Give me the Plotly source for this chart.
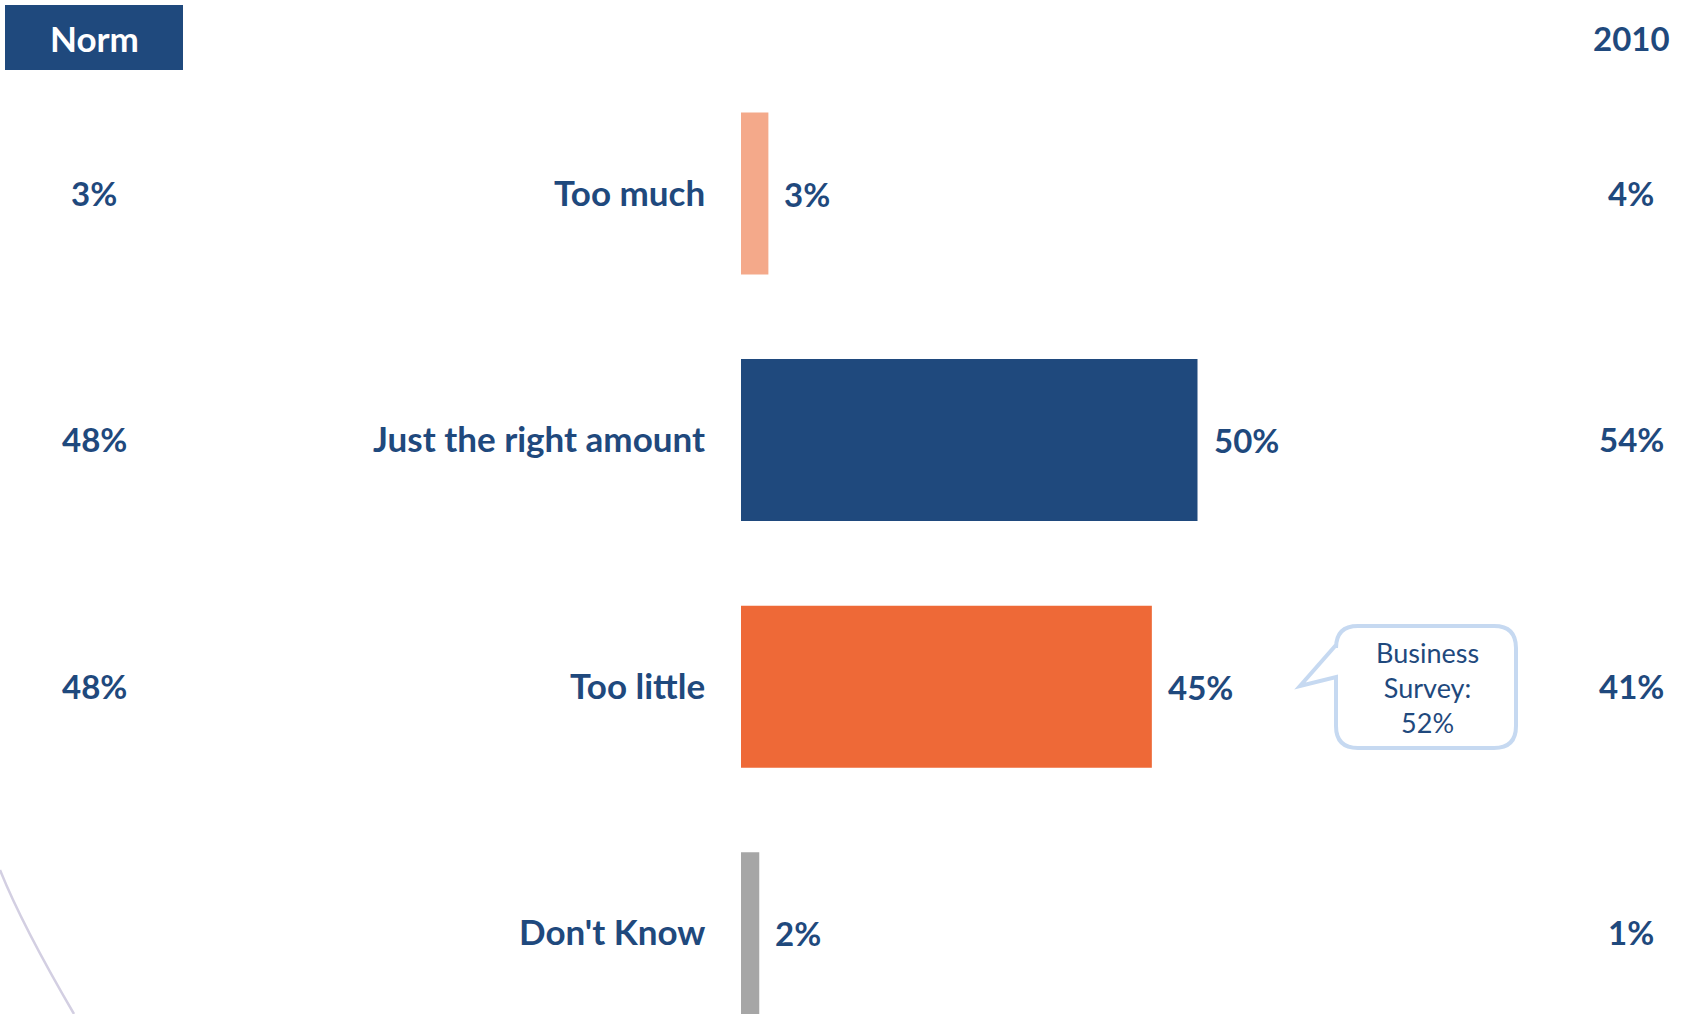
import plotly.graph_objects as go

# Survey answers and shares (%)
categories = ["Too much", "Just the right amount", "Too little", "Don't Know"]
current = [3, 50, 45, 2]
norm = [3, 48, 48, None]
year_2010 = [4, 54, 41, 1]
bar_colors = ["#F4A98A", "#1F497D", "#EE6937", "#A6A6A6"]
callout_text = "Business<br>Survey:<br>52%"

W, H = 1681, 1014
BLUE = "#1F497D"
FONT = "Lato"

ypos = list(range(len(categories)))

fig = go.Figure()
fig.add_trace(go.Bar(
    x=current, y=ypos, orientation="h",
    marker=dict(color=bar_colors, line=dict(width=0)),
    width=0.657, hoverinfo="skip",
))

ann = []
for i, cat in enumerate(categories):
    # category name to the left of the zero line
    ann.append(dict(x=0, y=i, xref="x", yref="y", text=f"<b>{cat}</b>",
                    xanchor="right", yanchor="middle", xshift=-34, yshift=2, showarrow=False,
                    font=dict(family=FONT, size=35, color=BLUE)))
    # value at the end of the bar
    ann.append(dict(x=current[i], y=i, xref="x", yref="y", text=f"<b>{current[i]}%</b>",
                    xanchor="left", yanchor="middle", xshift=14, yshift=0, showarrow=False,
                    font=dict(family=FONT, size=33, color=BLUE)))
    if norm[i] is not None:
        ann.append(dict(x=94 / W, y=i, xref="paper", yref="y", text=f"<b>{norm[i]}%</b>",
                        xanchor="center", yanchor="middle", yshift=1, showarrow=False,
                        font=dict(family=FONT, size=33, color=BLUE)))
    ann.append(dict(x=1631 / W, y=i, xref="paper", yref="y", text=f"<b>{year_2010[i]}%</b>",
                    xanchor="center", yanchor="middle", yshift=1, showarrow=False,
                    font=dict(family=FONT, size=33, color=BLUE)))

# column headers
ann.append(dict(x=94 / W, y=1 - 38 / H, xref="paper", yref="paper", text="<b>Norm</b>",
                xanchor="center", yanchor="middle", showarrow=False,
                font=dict(family=FONT, size=35, color="white")))
ann.append(dict(x=1631 / W, y=1 - 38 / H, xref="paper", yref="paper", text="<b>2010</b>",
                xanchor="center", yanchor="middle", showarrow=False,
                font=dict(family=FONT, size=33, color=BLUE)))
# speech bubble text
ann.append(dict(x=1427 / W, y=1 - 687 / H, xref="paper", yref="paper", text=callout_text,
                xanchor="center", yanchor="middle", showarrow=False,
                font=dict(family=FONT, size=27, color=BLUE)))


def px(x, y):
    return f"{x / W:.5f},{1 - y / H:.5f}"


shapes = [
    # "Norm" header box
    dict(type="rect", xref="paper", yref="paper", x0=5 / W, x1=183 / W,
         y0=1 - 70 / H, y1=1 - 5 / H, fillcolor=BLUE, line=dict(width=0), layer="below"),
    # decorative arc at bottom-left
    dict(type="path", xref="paper", yref="paper",
         path=f"M {px(0, 870)} Q {px(22, 925)} {px(74, 1014)}",
         line=dict(color="#D3CFE2", width=2.5)),
]

# speech bubble outline with rounded corners and a pointer to the left
x0, x1, y0, y1, r = 1336, 1516, 626, 748, 22
bubble = (
    f"M {px(x0 + r, y0)} L {px(x1 - r, y0)} Q {px(x1, y0)} {px(x1, y0 + r)} "
    f"L {px(x1, y1 - r)} Q {px(x1, y1)} {px(x1 - r, y1)} "
    f"L {px(x0 + r, y1)} Q {px(x0, y1)} {px(x0, y1 - r)} "
    f"L {px(x0, 677)} L {px(1300, 686)} L {px(x0, 645)} "
    f"L {px(x0, y0 + r)} Q {px(x0, y0)} {px(x0 + r, y0)} Z"
)
shapes.append(dict(type="path", xref="paper", yref="paper", path=bubble,
                   line=dict(color="#C6D9F1", width=4), fillcolor="white", layer="below"))

scale = 9.13  # pixels per percentage point
zero_px = 741
band = 246.6
first_center = 193.5

fig.update_layout(
    width=W, height=H,
    margin=dict(l=0, r=0, t=0, b=0),
    paper_bgcolor="white", plot_bgcolor="rgba(0,0,0,0)",
    showlegend=False,
    xaxis=dict(range=[-zero_px / scale, (W - zero_px) / scale], visible=False, fixedrange=True),
    yaxis=dict(range=[(H - first_center) / band, -first_center / band], visible=False, fixedrange=True),
    annotations=ann, shapes=shapes,
)

fig.write_html("out.html")
